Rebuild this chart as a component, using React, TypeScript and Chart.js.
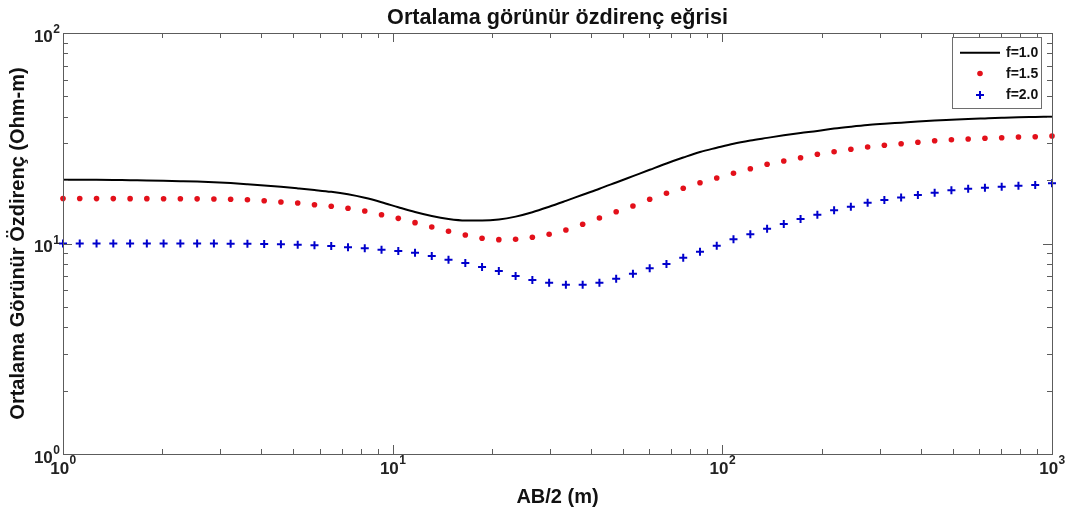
import React, { useEffect, useRef } from 'react';
import { Chart, registerables } from 'chart.js';

Chart.register(...registerables);

const TITLE = 'Ortalama görünür özdirenç eğrisi';
const X_TITLE = 'AB/2 (m)';
const Y_TITLE = 'Ortalama Görünür Özdirenç (Ohm-m)';
const SERIES_NAMES = ['f=1.0', 'f=1.5', 'f=2.0'];

const AB_HALF = [
  1, 1.124, 1.264, 1.421, 1.598, 1.796, 2.019, 2.27, 2.552, 2.869,
  3.225, 3.626, 4.076, 4.582, 5.152, 5.792, 6.511, 7.32, 8.229, 9.251,
  10.4, 11.69, 13.14, 14.77, 16.61, 18.67, 20.99, 23.6, 26.53, 29.83,
  33.53, 37.7, 42.38, 47.64, 53.56, 60.21, 67.69, 76.1, 85.55, 96.17,
  108.1, 121.6, 136.7, 153.6, 172.7, 194.2, 218.3, 245.4, 275.9, 310.1,
  348.6, 391.9, 440.6, 495.3, 556.8, 626.0, 703.7, 791.1, 889.4, 1000,
];

const RHO_F10 = [
  20.1, 20.1, 20.07, 20.03, 19.98, 19.94, 19.87, 19.78, 19.68, 19.55,
  19.36, 19.12, 18.86, 18.58, 18.27, 17.95, 17.6, 17.12, 16.48, 15.7,
  14.86, 14.1, 13.5, 13.08, 12.86, 12.85, 13.0, 13.42, 14.08, 14.95,
  15.95, 17.05, 18.2, 19.5, 20.9, 22.4, 24.0, 25.6, 27.2, 28.5,
  29.8, 30.85, 31.75, 32.66, 33.49, 34.23, 35.14, 35.89, 36.56, 37.04,
  37.49, 37.95, 38.36, 38.7, 39.04, 39.3, 39.55, 39.77, 39.9, 40.03,
];

const RHO_F15 = [
  16.35, 16.35, 16.34, 16.34, 16.33, 16.33, 16.32, 16.31, 16.3, 16.28,
  16.22, 16.15, 15.97, 15.74, 15.57, 15.29, 15.02, 14.7, 14.27, 13.7,
  13.17, 12.56, 11.98, 11.43, 10.97, 10.59, 10.43, 10.47, 10.7, 11.06,
  11.59, 12.34, 13.22, 14.16, 15.07, 16.22, 17.32, 18.29, 19.45, 20.47,
  21.55, 22.67, 23.79, 24.66, 25.56, 26.53, 27.3, 28.03, 28.74, 29.28,
  29.8, 30.25, 30.79, 31.12, 31.36, 31.61, 31.82, 32.06, 32.17, 32.42,
];

const RHO_F20 = [
  10.0, 10.0, 10.0, 10.0, 10.0, 10.0, 10.0, 10.0, 10.0, 10.0,
  9.98, 9.96, 9.94, 9.91, 9.87, 9.82, 9.74, 9.59, 9.49, 9.34,
  9.21, 9.04, 8.72, 8.38, 8.08, 7.73, 7.4, 7.01, 6.71, 6.51,
  6.37, 6.37, 6.51, 6.8, 7.19, 7.62, 7.99, 8.56, 9.14, 9.76,
  10.47, 11.06, 11.76, 12.38, 13.07, 13.7, 14.38, 14.96, 15.6, 16.1,
  16.55, 17.0, 17.43, 17.89, 18.21, 18.41, 18.61, 18.82, 18.96, 19.32,
];

const X_DECADES = [1, 10, 100, 1000];
const X_EXPONENTS = ['0', '1', '2', '3'];
const Y_DECADES = [1, 10, 100];
const Y_EXPONENTS = ['0', '1', '2'];
const MINOR_STEPS = [2, 3, 4, 5, 6, 7, 8, 9];

const FONT = '"Liberation Sans", Arial, Helvetica, sans-serif';
const RED = '#e3101a';
const BLUE = '#0000cc';
const AXIS_COLOR = '#5c5c5c';

const decorPlugin = {
  id: 'matlabDecor',
  afterDatasetsDraw(chart: any) {
    const { ctx, chartArea: a, scales } = chart;
    const xs = scales.x;
    const ys = scales.y;
    ctx.save();

    // frame
    ctx.strokeStyle = AXIS_COLOR;
    ctx.lineWidth = 1;
    ctx.strokeRect(a.left + 0.5, a.top + 0.5, a.right - a.left, a.bottom - a.top);

    // ticks
    const MAJOR = 9;
    const MINOR = 5;
    ctx.beginPath();
    const xTickVals: Array<[number, boolean]> = [];
    X_DECADES.forEach((d) => {
      xTickVals.push([d, true]);
      if (d < 1000) MINOR_STEPS.forEach((m) => xTickVals.push([d * m, false]));
    });
    xTickVals.forEach(([v, major]) => {
      const px = Math.round(xs.getPixelForValue(v)) + 0.5;
      const len = major ? MAJOR : MINOR;
      ctx.moveTo(px, a.bottom);
      ctx.lineTo(px, a.bottom - len);
      ctx.moveTo(px, a.top);
      ctx.lineTo(px, a.top + len);
    });
    const yTickVals: Array<[number, boolean]> = [];
    Y_DECADES.forEach((d) => {
      yTickVals.push([d, true]);
      if (d < 100) MINOR_STEPS.forEach((m) => yTickVals.push([d * m, false]));
    });
    yTickVals.forEach(([v, major]) => {
      const py = Math.round(ys.getPixelForValue(v)) + 0.5;
      const len = major ? MAJOR : MINOR;
      ctx.moveTo(a.left, py);
      ctx.lineTo(a.left + len, py);
      ctx.moveTo(a.right, py);
      ctx.lineTo(a.right - len, py);
    });
    ctx.stroke();

    // tick labels
    ctx.fillStyle = '#222';
    const baseFont = `bold 17px ${FONT}`;
    const expFont = `bold 12px ${FONT}`;
    ctx.textBaseline = 'middle';
    X_DECADES.forEach((v, i) => {
      const px = xs.getPixelForValue(v);
      ctx.font = baseFont;
      const wb = ctx.measureText('10').width;
      ctx.font = expFont;
      const we = ctx.measureText(X_EXPONENTS[i]).width;
      const start = px - (wb + we) / 2;
      ctx.font = baseFont;
      ctx.textAlign = 'left';
      ctx.fillText('10', start, a.bottom + 15);
      ctx.font = expFont;
      ctx.fillText(X_EXPONENTS[i], start + wb + 0.5, a.bottom + 7);
    });
    Y_DECADES.forEach((v, i) => {
      const py = ys.getPixelForValue(v);
      ctx.font = expFont;
      const we = ctx.measureText(Y_EXPONENTS[i]).width;
      ctx.textAlign = 'right';
      ctx.fillText(Y_EXPONENTS[i], a.left - 3, py - 3);
      ctx.font = baseFont;
      ctx.fillText('10', a.left - 3 - we - 0.5, py + 4);
    });

    // titles
    ctx.fillStyle = '#111';
    ctx.textAlign = 'center';
    ctx.font = `bold 21.6px ${FONT}`;
    ctx.fillText(TITLE, (a.left + a.right) / 2, 18);
    ctx.font = `bold 20px ${FONT}`;
    ctx.fillText(X_TITLE, (a.left + a.right) / 2, 497);
    ctx.save();
    ctx.translate(18, (a.top + a.bottom) / 2);
    ctx.rotate(-Math.PI / 2);
    ctx.fillText(Y_TITLE, 0, 0);
    ctx.restore();

    // legend
    const bx = 952.5, by = 37.5, bw = 89, bh = 71;
    ctx.fillStyle = '#fff';
    ctx.fillRect(bx, by, bw, bh);
    ctx.strokeStyle = '#6e6e6e';
    ctx.lineWidth = 1;
    ctx.strokeRect(bx, by, bw, bh);
    const rows = [52.7, 73.5, 95];
    ctx.strokeStyle = '#000';
    ctx.lineWidth = 2;
    ctx.beginPath();
    ctx.moveTo(960, rows[0]);
    ctx.lineTo(1000, rows[0]);
    ctx.stroke();
    ctx.fillStyle = RED;
    ctx.beginPath();
    ctx.arc(980, rows[1], 2.8, 0, Math.PI * 2);
    ctx.fill();
    ctx.strokeStyle = BLUE;
    ctx.lineWidth = 2;
    ctx.beginPath();
    ctx.moveTo(976, rows[2]);
    ctx.lineTo(984, rows[2]);
    ctx.moveTo(980, rows[2] - 4);
    ctx.lineTo(980, rows[2] + 4);
    ctx.stroke();
    ctx.fillStyle = '#111';
    ctx.font = `bold 14px ${FONT}`;
    ctx.textAlign = 'left';
    ctx.textBaseline = 'middle';
    SERIES_NAMES.forEach((n, i) => ctx.fillText(n, 1006, rows[i] + 0.5));

    ctx.restore();
  },
};

export default function App() {
  const ref = useRef<HTMLCanvasElement | null>(null);

  useEffect(() => {
    if (!ref.current) return;
    const chart = new Chart(ref.current, {
      type: 'line',
      data: {
        datasets: [
          {
            label: SERIES_NAMES[0],
            data: AB_HALF.map((x, i) => ({ x, y: RHO_F10[i] })),
            borderColor: '#000',
            borderWidth: 2,
            pointRadius: 0,
            cubicInterpolationMode: 'monotone',
            clip: false,
          },
          {
            label: SERIES_NAMES[1],
            data: AB_HALF.map((x, i) => ({ x, y: RHO_F15[i] })),
            showLine: false,
            pointRadius: 2.8,
            pointBackgroundColor: RED,
            pointBorderWidth: 0,
            borderColor: RED,
            clip: false,
          },
          {
            label: SERIES_NAMES[2],
            data: AB_HALF.map((x, i) => ({ x, y: RHO_F20[i] })),
            showLine: false,
            pointStyle: 'cross',
            pointRadius: 4,
            pointBorderWidth: 2,
            pointBorderColor: BLUE,
            borderColor: BLUE,
            clip: false,
          },
        ],
      } as any,
      options: {
        responsive: false,
        maintainAspectRatio: false,
        animation: false,
        devicePixelRatio: 1,
        layout: { padding: { top: 33, right: 16, left: 0, bottom: 0 } },
        plugins: {
          legend: { display: false },
          tooltip: { enabled: false },
          title: { display: false },
        },
        scales: {
          x: {
            type: 'logarithmic',
            min: 1,
            max: 1000,
            ticks: { display: false },
            grid: { display: false },
            border: { display: false },
            afterFit: (s: any) => {
              s.height = 59;
            },
          },
          y: {
            type: 'logarithmic',
            min: 1,
            max: 100,
            ticks: { display: false },
            grid: { display: false },
            border: { display: false },
            afterFit: (s: any) => {
              s.width = 63;
            },
          },
        },
      } as any,
      plugins: [decorPlugin],
    });
    return () => chart.destroy();
  }, []);

  return (
    <div
      style={{
        position: 'absolute',
        left: 0,
        top: 0,
        width: 1068,
        height: 513,
        background: '#fff',
      }}
    >
      <canvas ref={ref} width={1068} height={513} style={{ display: 'block' }} />
    </div>
  );
}
